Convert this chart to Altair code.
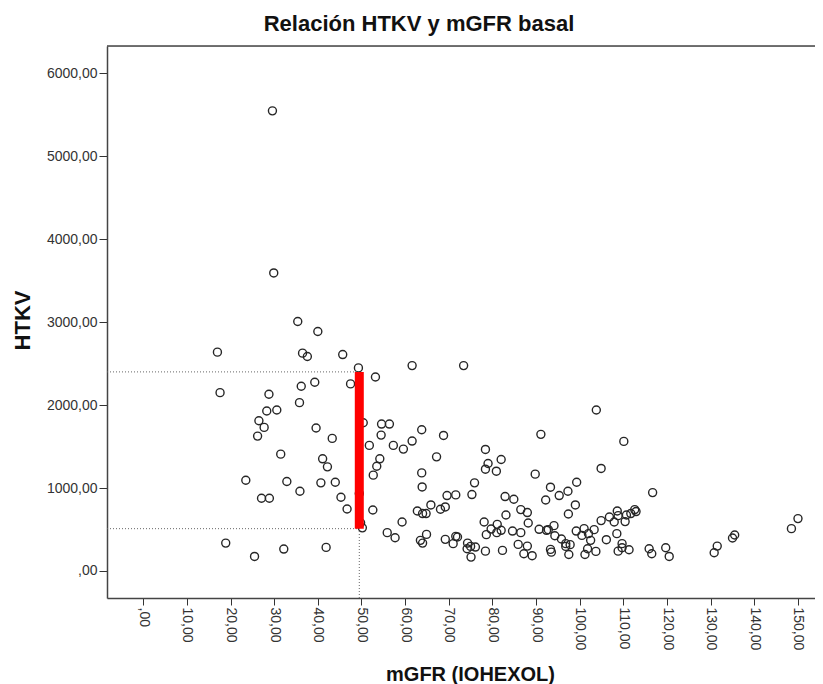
import altair as alt
import pandas as pd

# ---- data ----
mgfr = [29.6, 29.9, 35.4, 40.0,
        17.0, 36.5, 37.6, 45.7, 49.3, 53.2, 47.5, 39.3, 36.2, 17.6, 28.8, 35.8, 28.3, 30.6,
        26.5, 27.7, 26.2, 50.4, 54.6, 56.4, 54.5, 39.6, 43.3, 51.8, 57.3, 59.6, 31.5, 41.1,
        42.2, 54.2, 53.5, 52.7, 23.5, 32.9, 40.7, 44.0, 35.9, 27.1, 28.9, 49.5, 45.3, 46.7,
        52.6, 49.8, 50.2, 59.3, 55.9, 57.7, 18.9, 25.5, 32.2, 41.9,
        61.6, 73.4, 63.8, 68.8, 61.6, 67.2, 63.8, 63.9, 62.8, 64.0, 64.8, 65.9, 68.1, 69.2,
        69.6, 71.6, 63.5, 64.0, 64.9, 69.2, 71.0, 71.6, 72.0, 74.3, 75.0, 74.2, 76.1, 75.1,
        75.3, 75.9, 78.1, 78.4, 79.0, 78.4, 80.9, 82.0, 79.7, 78.6, 78.4, 81.1, 82.0, 81.0,
        82.3, 82.9, 84.9, 83.1, 84.6, 86.5, 86.5, 88.0, 88.2, 85.9, 88.0, 87.2, 89.1, 89.8,
        91.1, 90.7, 92.4, 92.8, 92.2, 93.3, 95.3, 97.3, 99.3, 99.0, 97.4, 94.1, 94.3, 95.8,
        96.8, 97.8, 96.8, 93.3, 93.5, 97.5, 99.2, 101.0, 100.5, 102.0, 102.5, 103.3, 101.2,
        101.8, 103.7, 103.8, 104.9, 104.9, 106.1, 106.8, 108.6, 108.8, 107.9, 110.4, 110.1,
        110.7, 108.5, 109.7, 109.7, 108.8, 111.3,
        116.7, 112.6, 112.9, 111.7, 115.9, 116.5, 119.7, 120.5, 130.8, 131.5, 135.0, 135.5,
        148.5, 150.0]
htkv = [5547, 3593, 3008, 2887,
        2638, 2626, 2585, 2609, 2448, 2339, 2255, 2275, 2227, 2150, 2130, 2029, 1928, 1940,
        1811, 1731, 1626, 1787, 1771, 1771, 1638, 1723, 1598, 1514, 1514, 1469, 1408, 1352,
        1255, 1352, 1263, 1155, 1094, 1078, 1062, 1070, 961, 877, 877, 933, 889, 747,
        735, 580, 520, 590, 462, 401, 336, 175, 264, 284,
        2476, 2476, 1702, 1634, 1566, 1376, 1182, 1013, 723, 692, 692, 796, 744, 772,
        909, 917, 369, 336, 441, 381, 329, 417, 409, 336, 296, 268, 288, 167,
        921, 1062, 590, 1465, 1296, 1227, 1203, 1344, 505, 438, 239, 562, 490, 462,
        248, 897, 864, 675, 481, 462, 740, 704, 578, 320, 300, 208, 184, 1167,
        1647, 502, 490, 498, 856, 1010, 909, 961, 1070, 796, 687, 546, 425, 385,
        329, 317, 296, 260, 227, 199, 481, 510, 429, 450, 369, 498, 199,
        268, 236, 1940, 1236, 607, 377, 650, 723, 667, 590, 595, 1562,
        675, 450, 329, 280, 239, 256,
        945, 740, 716, 692, 268, 208, 280, 175, 220, 300, 397, 433,
        510, 631]

chart_title = ["Relación HTKV y mGFR basal"]
x_ticks = list(range(0, 151, 10))
y_ticks = list(range(0, 6001, 1000))
x_domain = [-8.3, 153.9]
y_domain = [-326, 6329]
ref_x = 49.5
ref_y_low = 510
ref_y_high = 2400

df = pd.DataFrame({"mGFR": mgfr, "HTKV": htkv})

FONT = "Liberation Sans"
label_expr = "datum.value == 0 ? ',00' : replace(format(datum.value, '.2f'), '.', ',')"

xscale = alt.Scale(domain=x_domain, nice=False, zero=False)
yscale = alt.Scale(domain=y_domain, nice=False, zero=False)

x_axis = alt.Axis(values=x_ticks, labelExpr=label_expr, labelAngle=90, labelAlign="left",
                  labelBaseline="middle", labelPadding=2, labelFontSize=14, labelFont=FONT,
                  labelColor="#333333", tickSize=7, tickColor="#333333", tickWidth=1,
                  domainColor="#444444", domainWidth=1.5, grid=False,
                  title="mGFR (IOHEXOL)", titleFont=FONT, titleFontSize=20,
                  titleFontWeight="bold", titleColor="#111111", titleX=363, titleY=82,
                  titleBaseline="alphabetic", titleAnchor="start", titleAlign="center")
y_axis = alt.Axis(values=y_ticks, labelExpr=label_expr, labelPadding=2, labelFontSize=14,
                  labelFont=FONT, labelColor="#333333", tickSize=8, tickColor="#333333",
                  tickWidth=1, domainColor="#444444", domainWidth=1.5, grid=False,
                  title="HTKV", titleFont=FONT, titleFontSize=22, titleFontWeight="bold",
                  titleColor="#111111", titleAngle=-90, titleX=-85, titleY=274,
                  titleBaseline="middle", titleAlign="center")

points = alt.Chart(df).mark_point(shape="circle", filled=False, size=64, strokeWidth=1.4,
                                  color="#262626", opacity=1).encode(
    x=alt.X("mGFR:Q", scale=xscale, axis=x_axis),
    y=alt.Y("HTKV:Q", scale=yscale, axis=y_axis),
)

hlines = alt.Chart(pd.DataFrame({"y": [ref_y_low, ref_y_high]})).mark_rule(
    color="#666666", strokeDash=[1, 2], strokeWidth=1).encode(
    x=alt.datum(x_domain[0], scale=xscale),
    x2=alt.datum(ref_x),
    y=alt.Y("y:Q", scale=yscale),
)
vline = alt.Chart(pd.DataFrame({"x": [ref_x]})).mark_rule(
    color="#666666", strokeDash=[1, 2], strokeWidth=1).encode(
    x=alt.X("x:Q", scale=xscale),
    y=alt.datum(y_domain[0], scale=yscale),
    y2=alt.datum(ref_y_low),
)
red = alt.Chart(pd.DataFrame({"x": [ref_x], "y1": [ref_y_low], "y2": [ref_y_high]})).mark_rule(
    color="#ff0000", strokeWidth=9, strokeCap="butt").encode(
    x=alt.X("x:Q", scale=xscale),
    y=alt.Y("y1:Q", scale=yscale),
    y2="y2:Q",
)
topline = alt.Chart(pd.DataFrame({"a": [0]})).mark_rule(color="#444444", strokeWidth=1.5).encode(
    x=alt.datum(x_domain[0], scale=xscale),
    x2=alt.datum(x_domain[1]),
    y=alt.datum(y_domain[1], scale=yscale),
)
title = alt.Chart(pd.DataFrame({"t": chart_title})).mark_text(
    font=FONT, fontSize=22, fontWeight="bold", color="#111111", align="center",
    baseline="alphabetic").encode(
    text="t:N",
    x=alt.value(312),
    y=alt.value(-15),
)

chart = alt.layer(points, hlines, vline, red, topline, title).properties(
    width=708, height=552,
    autosize=alt.AutoSizeParams(type="none"),
    padding={"left": 99, "top": 38, "right": 0, "bottom": 86},
).configure_view(fill="#f0f0f0", stroke=None).configure(background="white")

chart.save("out.html", embed_options={"renderer": "svg", "actions": False})
